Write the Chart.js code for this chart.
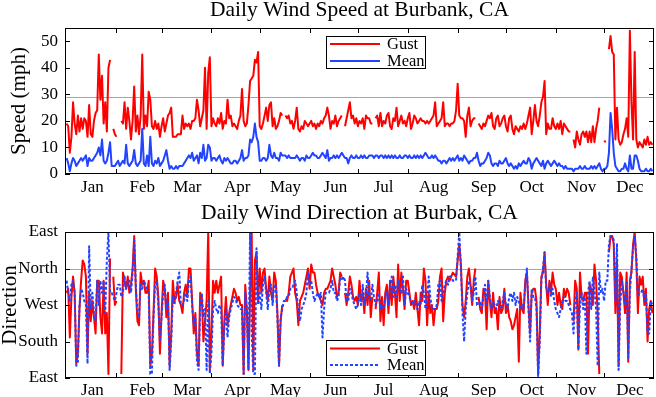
<!DOCTYPE html>
<html lang="en">
<head>
<meta charset="UTF-8">
<title>Daily Wind at Burbank</title>
<script src="https://cdn.jsdelivr.net/npm/chart.js@4.4.1/dist/chart.umd.min.js"></script>
<style>
  html, body { margin: 0; padding: 0; background: #fff; }
  canvas { display: block; }
</style>
</head>
<body>
<canvas id="speedChart" width="656" height="200"></canvas>
<canvas id="dirChart" width="656" height="197"></canvas>
<script>
  // month names and day-of-year of the 1st of each month
  const months = ['Jan', 'Feb', 'Mar', 'Apr', 'May', 'Jun', 'Jul', 'Aug', 'Sep', 'Oct', 'Nov', 'Dec'];
  const monthStarts = [1, 32, 60, 91, 121, 152, 182, 213, 244, 274, 305, 335];
  const speedTicks = [0, 10, 20, 30, 40, 50];
  const dirTicks = [90, 180, 270, 360, 450];
  const dirLabels = ['East', 'South', 'West', 'North', 'East'];

  // daily gust speed (mph), one value per day, Jan..Dec
  const gustSpeed = [
    19,18,8,14,27,19,15,22,16,21,17,21,20,14,26,15,14,20,23,24,45,28,37,19,27,16,40,43,null,17,15,
    14,null,null,20,19,27,17,25,20,13,20,33,16,22,15,22,45,17,22,18,31,28,18,17,20,17,19,14,
    18,21,16,19,22,23,25,14,14,14,15,15,15,22,17,19,18,19,17,20,20,21,28,24,18,21,24,40,17,38,44,
    18,21,19,18,21,19,23,17,20,19,28,21,22,18,19,18,17,20,22,32,20,18,19,26,35,36,37,43,42,46,
    18,17,19,22,25,20,26,27,18,21,17,18,20,23,22,null,22,21,22,19,20,17,20,25,17,16,18,17,20,19,18,
    19,20,18,19,17,19,18,20,19,21,22,25,22,17,20,19,22,18,20,21,22,null,18,21,24,27,21,22,19,21,
    18,20,19,21,17,22,21,21,19,19,null,21,22,18,23,18,20,19,22,23,18,17,21,20,25,18,20,22,19,20,18,
    21,23,17,19,22,21,19,20,21,20,20,19,20,19,20,21,22,27,18,19,20,21,27,18,19,19,18,19,19,20,24,
    34,22,21,21,20,14,22,25,18,20,21,21,null,19,18,17,19,18,20,22,21,23,18,17,21,22,18,19,21,22,
    18,16,21,22,17,15,18,17,16,18,17,19,17,19,22,25,15,20,26,20,18,22,27,29,35,15,19,17,17,21,18,
    17,19,17,20,15,19,18,17,16,16,null,13,10,16,13,11,15,16,14,16,12,16,12,18,12,17,20,25,null,null,
    12.5,12,null,47,52,46,45,13,25,13,11,12,15,17,21,14,54,27,13,46,13,10,12,11,10,13,11,14,11,12,11
  ];

  // daily mean speed (mph)
  const meanSpeed = [
    6,4,1,4,6,5,3,4,5,6,5,6,7,3,6,5,5,6,7,8,10,7,13,5,4,5,8,12,3,3,3,
    4,5,3,4,5,4,11,4,3,4,5,9,4,3,4,5,17,4,3,7,3,14,4,3,5,4,6,3,
    4,5,7,9,5,2,3,2,2,3,2,3,3,3,4,5,6,7,6,8,5,6,7,4,8,6,11,5,6,11,10,
    5,6,6,5,6,7,5,4,6,5,6,5,4,4,5,5,4,5,6,9,5,6,6,7,13,12,14,19,14,12,
    5,5,6,6,5,6,11,7,6,8,6,6,5,8,7,7,7,6,7,6,6,6,6,7,6,5,6,6,5,7,6,
    6,7,8,7,7,6,6,7,8,7,6,9,5,6,6,7,6,7,6,7,8,7,6,6,4,6,7,6,6,7,
    6,6,7,6,7,6,6,7,7,7,6,7,7,6,7,7,6,7,6,7,6,7,6,7,6,6,7,6,6,7,7,
    6,7,6,6,7,6,7,6,7,6,7,8,7,6,6,7,6,7,6,5,5,4,5,5,4,5,6,5,6,5,6,
    7,5,6,5,7,6,5,4,5,5,6,6,8,5,3,4,4,5,6,8,7,4,3,4,4,3,5,4,4,5,
    6,4,3,4,3,2,3,2,4,3,4,5,4,4,6,5,2,4,5,6,5,4,3,5,2,4,5,4,3,4,5,
    4,3,4,3,3,2,3,2,2,2,2,1,2,2,2,3,2,2,3,2,2,2,3,2,3,2,3,4,2,1,
    2,2,3,8,23,17,8,3,2,1,1,2,2,4,2,1,7,2,2,7,7,5,2,1,1,1,2,1,1,2,1
  ];

  // daily gust direction (degrees, 90 = East ... 450 = East again)
  const gustDir = [
    300,310,190,290,340,300,125,150,260,330,380,370,340,150,300,230,280,240,200,330,330,240,200,330,200,250,100,385,null,340,270,
    280,null,null,100,350,330,310,340,300,320,360,440,310,230,220,350,320,330,300,300,330,120,150,250,360,340,290,150,
    250,330,310,240,300,120,200,330,280,290,320,280,270,250,300,320,290,360,360,280,200,250,150,120,300,290,180,230,280,450,110,
    200,330,300,330,300,320,340,120,230,290,220,250,270,290,310,300,280,290,270,270,100,320,260,110,300,450,110,380,400,280,
    360,300,350,360,310,280,340,300,280,350,330,250,120,230,270,null,285,280,300,340,350,360,300,280,220,280,290,300,320,340,360,
    310,370,350,350,320,300,290,280,270,300,310,310,320,330,360,340,320,290,300,350,340,null,300,270,300,340,320,290,280,290,
    270,330,280,300,250,310,270,330,240,290,null,260,300,350,230,290,220,300,320,250,330,270,340,300,240,370,280,350,310,260,330,
    330,300,270,280,260,300,260,220,300,280,360,330,220,300,250,270,220,260,260,280,340,360,230,300,330,340,330,340,350,345,340,
    380,420,370,270,240,280,340,360,320,270,330,360,null,290,260,250,310,300,210,330,280,240,300,250,260,210,290,250,260,310,
    250,270,240,230,210,220,240,260,130,300,260,250,330,350,270,200,300,310,310,280,100,200,340,350,400,320,270,330,300,350,320,
    310,270,300,270,260,310,290,310,300,270,null,230,330,310,160,350,290,280,300,300,150,320,310,270,370,330,250,100,null,null,
    null,null,null,400,440,440,420,250,380,120,350,340,300,250,350,130,330,350,420,450,380,250,340,320,340,270,310,180,260,280,250
  ];

  // daily mean direction (degrees)
  const meanDir = [
    330,300,280,320,330,300,120,130,270,310,300,280,270,125,415,260,300,250,230,330,270,330,300,330,250,380,450,300,300,290,280,
    300,320,320,290,300,340,310,320,330,300,350,430,320,250,240,320,310,330,320,310,300,100,100,240,320,330,270,180,
    240,300,320,260,280,110,180,290,270,300,330,350,270,270,280,300,280,330,340,270,220,240,130,110,260,300,240,260,110,280,100,
    150,260,280,260,250,270,260,120,210,260,190,240,260,275,290,285,270,265,260,260,100,300,260,110,450,200,100,100,410,270,
    300,260,320,340,300,260,310,320,270,320,320,240,120,240,260,280,280,290,290,310,310,320,330,300,250,230,260,270,280,300,350,
    320,330,300,280,290,300,290,300,190,260,300,300,300,310,330,300,300,280,290,340,330,340,330,280,280,310,300,280,270,260,
    270,300,270,320,270,290,350,290,280,320,290,270,280,300,260,270,260,290,300,270,320,340,290,320,290,330,310,300,340,270,310,
    300,290,280,270,280,270,260,280,270,320,300,260,280,340,290,260,260,260,270,320,330,280,300,320,330,320,340,340,330,330,330,
    390,450,360,250,180,260,300,330,320,280,300,340,270,270,280,260,290,320,270,330,290,260,280,270,260,280,270,260,280,300,
    270,260,290,300,280,300,270,290,280,260,270,260,320,360,260,180,310,290,290,260,95,180,330,360,400,310,300,320,290,310,280,
    260,250,240,260,280,290,280,280,270,260,250,200,280,300,160,270,300,260,290,150,300,330,260,340,310,260,120,350,300,310,
    280,330,330,420,440,440,430,280,420,110,270,330,300,270,330,140,300,360,410,440,390,290,300,300,310,280,300,200,200,280,270
  ];

  const FONT = "'Liberation Serif', 'Times New Roman', serif";
  const RED = '#ff0000';
  const BLUE = '#2244ff';

  // box, inward tick marks, reference line, titles and legend in the MATLAB look
  const framePlugin = {
    id: 'frame',
    beforeDatasetsDraw(chart, args, opts) {
      const { ctx, chartArea: a, scales: { y } } = chart;
      const ry = Math.round(y.getPixelForValue(opts.refLine)) + 0.5;
      ctx.save();
      ctx.strokeStyle = '#a6a6a6';
      ctx.lineWidth = 1;
      ctx.beginPath();
      ctx.moveTo(a.left, ry);
      ctx.lineTo(a.right, ry);
      ctx.stroke();
      ctx.restore();
    },
    afterDraw(chart, args, opts) {
      const { ctx, chartArea: a, scales: { x, y } } = chart;
      ctx.save();
      ctx.strokeStyle = '#000';
      ctx.lineWidth = 1;
      ctx.strokeRect(a.left + 0.5, a.top + 0.5, a.right - a.left - 1, a.bottom - a.top - 1);
      ctx.beginPath();
      monthStarts.slice(1).forEach(m => {
        const px = Math.round(x.getPixelForValue(m)) + 0.5;
        ctx.moveTo(px, a.bottom); ctx.lineTo(px, a.bottom - 5);
        ctx.moveTo(px, a.top); ctx.lineTo(px, a.top + 5);
      });
      y.ticks.forEach(t => {
        const py = Math.round(y.getPixelForValue(t.value)) + 0.5;
        ctx.moveTo(a.left, py); ctx.lineTo(a.left + 5, py);
        ctx.moveTo(a.right, py); ctx.lineTo(a.right - 5, py);
      });
      ctx.stroke();

      ctx.fillStyle = '#000';
      ctx.textAlign = 'center';
      ctx.textBaseline = 'alphabetic';
      ctx.font = '21.5px ' + FONT;
      ctx.fillText(opts.title, (a.left + a.right) / 2, opts.titleY);

      ctx.save();
      ctx.translate(opts.yTitleX, (a.top + a.bottom) / 2);
      ctx.rotate(-Math.PI / 2);
      ctx.textBaseline = 'middle';
      ctx.font = '21px ' + FONT;
      ctx.fillText(opts.yTitle, 0, 0);
      ctx.restore();

      const L = opts.legend;
      ctx.fillStyle = '#fff';
      ctx.fillRect(L.x, L.y, L.w, L.h);
      ctx.strokeStyle = '#000';
      ctx.lineWidth = 1;
      ctx.strokeRect(L.x + 0.5, L.y + 0.5, L.w, L.h);
      chart.data.datasets.forEach((ds, i) => {
        const ly = L.rows[i];
        ctx.strokeStyle = ds.borderColor;
        ctx.lineWidth = ds.borderWidth;
        ctx.setLineDash(ds.borderDash || []);
        ctx.beginPath();
        ctx.moveTo(L.x + 4, ly);
        ctx.lineTo(L.x + 54, ly);
        ctx.stroke();
        ctx.setLineDash([]);
        ctx.fillStyle = '#000';
        ctx.textAlign = 'left';
        ctx.textBaseline = 'middle';
        ctx.font = '16.5px ' + FONT;
        ctx.fillText(ds.label, L.x + 61, ly + 1);
      });
      ctx.restore();
    }
  };

  function series(values) {
    return values.map((v, i) => ({ x: i + 1, y: v }));
  }

  function xScale(height, pad) {
    return {
      type: 'linear', min: 0, max: 366,
      grid: { display: false, drawTicks: false },
      border: { display: false },
      afterBuildTicks: s => { s.ticks = monthStarts.map(m => ({ value: m + 16 })); },
      afterFit: s => { s.height = height; },
      ticks: {
        autoSkip: false, maxRotation: 0, padding: pad, color: '#000',
        font: { family: FONT, size: 17 },
        callback: (v, i) => months[i]
      }
    };
  }

  function yScale(min, max, ticks, labelFor) {
    return {
      min, max,
      grid: { display: false, drawTicks: false },
      border: { display: false },
      afterBuildTicks: s => { s.ticks = ticks.map(v => ({ value: v })); },
      afterFit: s => { s.width = 65; },
      ticks: {
        padding: 7, color: '#000',
        font: { family: FONT, size: 17 },
        callback: labelFor
      }
    };
  }

  new Chart(document.getElementById('speedChart'), {
    type: 'line',
    data: {
      datasets: [
        { label: 'Gust', data: series(gustSpeed), borderColor: RED, borderWidth: 2, order: 2 },
        { label: 'Mean', data: series(meanSpeed), borderColor: BLUE, borderWidth: 2, order: 1 }
      ]
    },
    options: {
      responsive: false, animation: false, events: [],
      elements: { point: { radius: 0 }, line: { tension: 0, borderJoinStyle: 'round' } },
      layout: { padding: { top: 28, right: 2, left: 0, bottom: 0 } },
      scales: {
        x: xScale(26, 3),
        y: yScale(0, 55, speedTicks, v => v)
      },
      plugins: {
        legend: { display: false },
        tooltip: { enabled: false },
        frame: {
          title: 'Daily Wind Speed at Burbank, CA', titleY: 16,
          yTitle: 'Speed (mph)', yTitleX: 19, refLine: 29,
          legend: { x: 326, y: 36, w: 99, h: 32, rows: [44, 61] }
        }
      }
    },
    plugins: [framePlugin]
  });

  new Chart(document.getElementById('dirChart'), {
    type: 'line',
    data: {
      datasets: [
        { label: 'Gust', data: series(gustDir), borderColor: RED, borderWidth: 2, order: 2 },
        { label: 'Mean', data: series(meanDir), borderColor: BLUE, borderWidth: 2, borderDash: [3, 2], order: 1 }
      ]
    },
    options: {
      responsive: false, animation: false, events: [],
      elements: { point: { radius: 0 }, line: { tension: 0, borderJoinStyle: 'round' } },
      layout: { padding: { top: 32, right: 2, left: 0, bottom: 0 } },
      scales: {
        x: xScale(19, 2),
        y: yScale(90, 450, dirTicks, v => dirLabels[dirTicks.indexOf(v)])
      },
      plugins: {
        legend: { display: false },
        tooltip: { enabled: false },
        frame: {
          title: 'Daily Wind Direction at Burbak, CA', titleY: 19,
          yTitle: 'Direction', yTitleX: 10, refLine: 360,
          legend: { x: 326, y: 140, w: 99, h: 35, rows: [148.5, 165] }
        }
      }
    },
    plugins: [framePlugin]
  });
</script>
</body>
</html>
